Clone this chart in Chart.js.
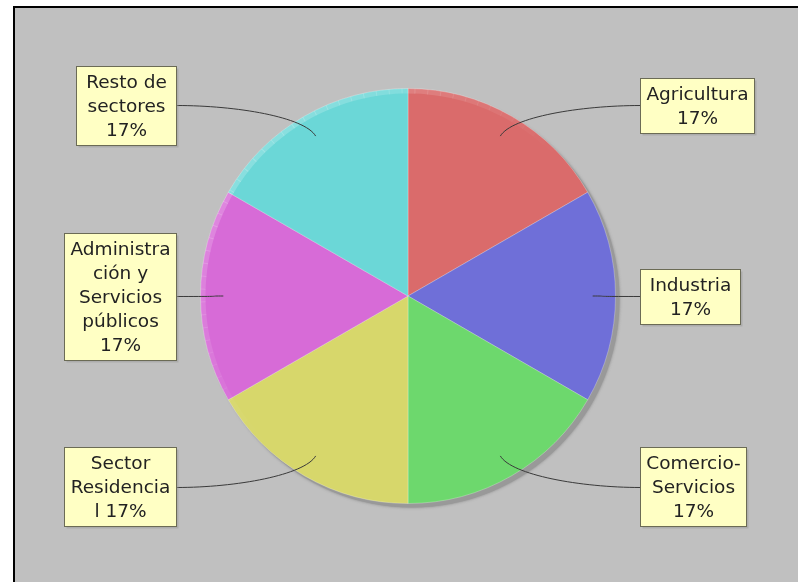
<!DOCTYPE html>
<html>
<head>
<meta charset="utf-8">
<script src="https://cdn.jsdelivr.net/npm/chart.js@4.4.1/dist/chart.umd.min.js"></script>
<style>
html,body{margin:0;padding:0;background:#ffffff;}
#wrap{width:798px;height:582px;position:relative;}
</style>
</head>
<body>
<div id="wrap"><canvas id="c" width="798" height="582"></canvas></div>
<script>
// ---- data ----
const categories = ["Agricultura", "Industria", "Comercio-Servicios", "Sector Residencial", "Administración y Servicios públicos", "Resto de sectores"];
const values = [1, 1, 1, 1, 1, 1];
const labelLines = [
  ["Agricultura", "17%"],
  ["Industria", "17%"],
  ["Comercio-", "Servicios", "17%"],
  ["Sector", "Residencia", "l 17%"],
  ["Administra", "ción y", "Servicios", "públicos", "17%"],
  ["Resto de", "sectores", "17%"]
];
const sliceColors = ["#da6b6b", "#6f6fd8", "#6dd86d", "#d7d76b", "#d76bd7", "#6bd7d7"];

const FONT = '18.5px "DejaVu Sans", sans-serif';

const framePlugin = {
  id: 'frame',
  beforeDraw(chart) {
    const ctx = chart.ctx;
    ctx.save();
    ctx.fillStyle = '#ffffff';
    ctx.fillRect(0, 0, chart.width, chart.height);
    ctx.fillStyle = '#c0c0c0';
    ctx.fillRect(13, 6, chart.width, chart.height);
    ctx.strokeStyle = '#000000';
    ctx.lineWidth = 2;
    ctx.beginPath();
    ctx.moveTo(14, chart.height + 2);
    ctx.lineTo(14, 7);
    ctx.lineTo(chart.width + 2, 7);
    ctx.stroke();
    ctx.restore();
  },
  beforeDatasetsDraw(chart) {
    const arcs = chart.getDatasetMeta(0).data;
    if (!arcs.length) return;
    const a = arcs[0];
    const ctx = chart.ctx;
    ctx.save();
    ctx.shadowColor = 'rgba(120,120,120,0.8)';
    ctx.shadowBlur = 3;
    ctx.fillStyle = '#999999';
    ctx.beginPath();
    ctx.arc(a.x + 4, a.y + 4, a.outerRadius, 0, Math.PI * 2);
    ctx.fill();
    ctx.restore();
  },
  afterDatasetsDraw(chart) {
    const arcs = chart.getDatasetMeta(0).data;
    const ctx = chart.ctx;
    ctx.save();
    // subtle 3D rim highlight on the pie, fading away from the top-left
    if (arcs.length) {
      const a = arcs[0];
      const steps = 60;
      const centre = Math.PI * 1.25;
      for (let s = 0; s < steps; s++) {
        const t0 = centre - Math.PI * 0.6 + (s / steps) * Math.PI * 1.2;
        const t1 = t0 + Math.PI * 1.2 / steps + 0.005;
        const w = Math.cos((t0 + t1) / 2 - centre);
        const alpha = Math.max(0, w) * 0.2;
        ctx.beginPath();
        ctx.arc(a.x, a.y, a.outerRadius - 2.5, t0, t1);
        ctx.strokeStyle = 'rgba(255,255,255,' + alpha.toFixed(3) + ')';
        ctx.lineWidth = 5;
        ctx.stroke();
      }
    }
    ctx.font = FONT;
    const lineH = 24;
    arcs.forEach((arc, i) => {
      const cx = arc.x, cy = arc.y, r = arc.outerRadius;
      const mid = (arc.startAngle + arc.endAngle) / 2;
      const cosm = Math.cos(mid), sinm = Math.sin(mid);
      const ax = cx + cosm * r * 0.89;
      const ay = cy + sinm * r * 0.89;
      const right = cosm > 0.0001 || (Math.abs(cosm) <= 0.0001 && sinm < 0);
      const lines = labelLines[i];
      let tw = 0;
      lines.forEach(l => { tw = Math.max(tw, ctx.measureText(l).width); });
      const bw = Math.round(Math.max(tw + 12, 100));
      const bh = Math.round(lines.length * lineH + 7);
      const bcy = cy + sinm * 220;
      const bx = (right ? Math.round(cx + 232) : Math.round(cx - 232 - bw)) + 0.5;
      const by = Math.round(bcy - bh / 2) + 0.5;
      const ex = right ? bx : bx + bw;
      const ey = Math.round(bcy) + 0.5;
      // connector
      ctx.strokeStyle = '#3a3a3a';
      ctx.lineWidth = 1;
      ctx.beginPath();
      ctx.moveTo(ax, ay);
      ctx.bezierCurveTo(ax + cosm * 22, ay + sinm * 22, ex + (right ? -60 : 60), ey, ex, ey);
      ctx.stroke();
      // box shadow
      ctx.fillStyle = 'rgba(151,151,151,0.5)';
      ctx.fillRect(bx + 2, by + 2, bw, bh);
      // box
      ctx.fillStyle = '#ffffc4';
      ctx.fillRect(bx, by, bw, bh);
      ctx.strokeStyle = '#6b6b55';
      ctx.strokeRect(bx, by, bw, bh);
      // text
      ctx.fillStyle = '#222222';
      ctx.textAlign = 'center';
      ctx.textBaseline = 'middle';
      lines.forEach((l, k) => {
        ctx.fillText(l, bx + bw / 2, by + 3.5 + lineH * (k + 0.5) + 1);
      });
    });
    ctx.restore();
  }
};

new Chart(document.getElementById('c'), {
  type: 'pie',
  data: {
    labels: categories,
    datasets: [{
      data: values,
      backgroundColor: sliceColors,
      borderColor: 'rgba(255,255,255,0.25)',
      borderWidth: 1,
      hoverOffset: 0,
      offset: 0
    }]
  },
  options: {
    responsive: false,
    animation: false,
    events: [],
    layout: { padding: { left: 200, right: 182, top: 88, bottom: 78 } },
    plugins: {
      legend: { display: false },
      tooltip: { enabled: false },
      title: { display: false }
    }
  },
  plugins: [framePlugin]
});
</script>
</body>
</html>
